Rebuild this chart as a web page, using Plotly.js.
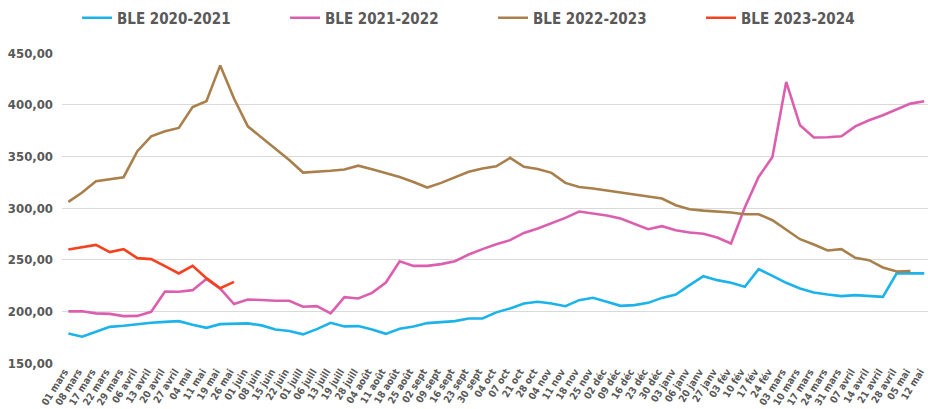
<!DOCTYPE html>
<html>
<head>
<meta charset="utf-8">
<script src="https://cdn.plot.ly/plotly-3.0.1.min.js"></script>
<style>html,body{margin:0;padding:0;background:#fff;}#chart{width:928px;height:409px;}</style>
</head>
<body>
<div id="chart"></div>
<script>
const dateLabels = ["01 mars","08 mars","17 mars","22 mars","29 mars","06 avril","13 avril","20 avril","27 avril","04 mai","11 mai","19 mai","26 mai","01 juin","08 juin","15 juin","22 juin","01 juill","06 juill","13 juill","19 juill","28 juill","04 août","11 août","18 août","25 août","02 sept","09 sept","16 sept","23 sept","30 sept","04 oct","07 oct","21 oct","28 oct","04 nov","11 nov","18 nov","25 nov","02 déc","09 déc","16 déc","23 déc","30 déc","03 janv","06 janv","20 janv","27 janv","03 fév","10 fév","17 fév","24 fév","03 mars","10 mars","17 mars","24 mars","31 mars","07 avril","14 avril","21 avril","28 avril","05 mai","12 mai"];

const ble2020 = [178.6,175.4,180.2,185,186,187.6,188.9,189.8,190.5,187,184,187.6,187.6,188.3,186.4,182.5,180.9,177.7,182.8,188.9,185.4,185.7,182.5,178.2,183.1,185.4,188.6,189.6,190.5,193.1,193.1,199,202.8,207.6,209.2,207.6,205,210.8,213.1,209.2,205.3,206,208.2,213,216.3,225.3,234,230.2,227.6,223.7,240.8,234.3,227.6,222.1,218.3,216.3,214.7,215.7,215,214,236.7,236.7,236.7];

const ble2021 = [200,200,198,197.5,195.4,195.6,199.5,219.2,219,220.5,231.4,222,207,211.5,211,210.2,210.2,204.4,205,198,213.7,212.5,217.9,227.9,248.5,244,244,245.7,248.5,255,260.2,265,268.9,275.9,280.2,285.6,290.4,296.6,294.7,292.7,289.8,285,279.5,282.4,278.5,276.3,275,271.5,265.7,300.5,330,349.4,422,380,368.2,368.5,369.4,379,384.9,389.7,395.2,401,403.3];

const ble2022 = [306,315,326,327.6,329.8,355,369.4,374.3,377.5,397.8,403.3,438,405.9,379,368,357.5,346.5,334.3,335,336,337.2,341,337.5,334,330,325.2,319.8,324.3,329.5,335,338.2,340.3,348.5,339.8,337.8,334,324.3,320.4,318.8,316.9,314.6,313,311.1,309.2,302.7,298.8,297.5,296.6,295.6,294,294,288.2,279.2,269.8,264.7,258.9,260.2,251.8,249.5,242.5,238.6,238.9];

const ble2023 = [259.8,262,264.3,257.3,260.2,251.5,250.5,243.7,236.7,244,232.1,222.4,228.5];

const seriesNames = ["BLE 2020-2021","BLE 2021-2022","BLE 2022-2023","BLE 2023-2024"];
const seriesColors = ["#1bb3ea","#dc5faf","#a9804c","#f4421f"];
const seriesData = [ble2020, ble2021, ble2022, ble2023];
const yTicks = [150,200,250,300,350,400,450];

const traces = seriesData.map((vals, k) => ({
  type: 'scatter',
  mode: 'lines',
  name: seriesNames[k],
  x: vals.map((v, i) => i),
  y: vals,
  line: {color: seriesColors[k], width: 2.6},
  hoverinfo: 'skip'
}));

const tickFont = {family: '"DejaVu Sans Condensed", "DejaVu Sans", sans-serif', color: '#595959'};

const layout = {
  width: 928,
  height: 409,
  margin: {l: 62, r: 0, t: 53, b: 46},
  paper_bgcolor: '#ffffff',
  plot_bgcolor: '#ffffff',
  separators: ', ',
  showlegend: true,
  legend: {
    orientation: 'h',
    xref: 'container', yref: 'container',
    x: 0.083, y: 0.956, xanchor: 'left', yanchor: 'middle',
    entrywidth: 163, entrywidthmode: 'pixels',
    itemwidth: 30,
    font: {family: '"DejaVu Sans Condensed", "DejaVu Sans", sans-serif', size: 15, color: '#595959', weight: 'bold'},
    bgcolor: 'rgba(0,0,0,0)'
  },
  xaxis: {
    range: [-0.46, 62.27],
    tickmode: 'array',
    tickvals: dateLabels.map((d, i) => i),
    ticktext: dateLabels,
    tickangle: -58,
    tickfont: Object.assign({size: 10, weight: 'bold'}, tickFont),
    ticklabeloverflow: 'allow',
    ticklabelshift: -4,
    showgrid: false,
    zeroline: false,
    showline: false,
    ticks: '',
    automargin: false,
    fixedrange: true
  },
  yaxis: {
    range: [150, 450],
    tickmode: 'array',
    tickvals: yTicks,
    ticktext: yTicks.map(v => v.toFixed(2).replace('.', ',')),
    tickfont: Object.assign({size: 13, weight: 'bold'}, tickFont),
    showgrid: true,
    gridcolor: '#d9d9d9',
    gridwidth: 1,
    zeroline: false,
    showline: false,
    ticks: '',
    ticklabelstandoff: 8,
    automargin: false,
    fixedrange: true
  }
};

Plotly.newPlot('chart', traces, layout, {displayModeBar: false, staticPlot: true});
</script>
</body>
</html>
